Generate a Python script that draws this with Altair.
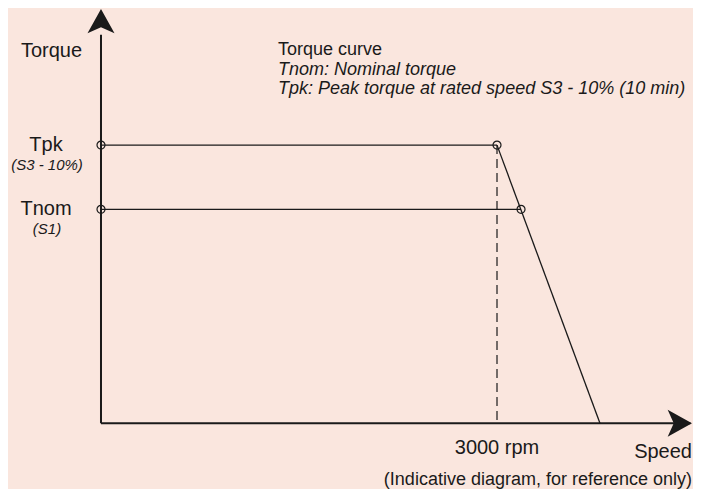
import altair as alt
import pandas as pd

# ---- values ----
rated_speed = 3000            # rpm, end of the peak-torque plateau
nominal_corner_speed = 3182   # rpm, where the nominal-torque line meets the slope
zero_torque_speed = 3780      # rpm, where the slope reaches zero torque
peak_torque = 130             # Tpk (relative units)
nominal_torque = 100          # Tnom (relative units)
speed_axis_end = 4477         # arrow tip of the speed axis
torque_axis_end = 193.6       # arrow tip of the torque axis

seg_x = [0, 0, rated_speed]
seg_y = [peak_torque, nominal_torque, peak_torque]
seg_x2 = [rated_speed, nominal_corner_speed, zero_torque_speed]
seg_y2 = [peak_torque, nominal_torque, 0]

dash_x = [rated_speed]
dash_y = [peak_torque]
dash_y2 = [0]

marker_x = [0, rated_speed, 0, nominal_corner_speed]
marker_y = [peak_torque, peak_torque, nominal_torque, nominal_torque]

torque_labels = ["Tpk", "Tnom"]
torque_notes = ["(S3 - 10%)", "(S1)"]
torque_label_values = [peak_torque, nominal_torque]

legend_title = "Torque curve"
legend_items = ["Tnom: Nominal torque",
                "Tpk: Peak torque at rated speed S3 - 10% (10 min)"]
y_title = "Torque"
x_title = "Speed"
x_tick_label = f"{rated_speed} rpm"
footnote = "(Indicative diagram, for reference only)"

# ---- layout / style ----
W, H = 685, 481
BG = "#FAE6DE"
INK = "#1a1a1a"
FONT = "Liberation Sans"

xs = alt.Scale(domain=[-704.5, 4484.8], nice=False, zero=False)
ys = alt.Scale(domain=[-30.70, 194.07], nice=False, zero=False)

def X(f):
    return alt.X(f, type="quantitative", scale=xs, axis=None)

def Y(f):
    return alt.Y(f, type="quantitative", scale=ys, axis=None)

axes_df = pd.DataFrame({"x": [0, 0], "y": [0, 0],
                        "x2": [speed_axis_end - 12, 0],
                        "y2": [0, torque_axis_end - 12]})
axes = alt.Chart(axes_df).mark_rule(strokeWidth=2, color=INK).encode(
    x=X("x"), y=Y("y"), x2="x2:Q", y2="y2:Q")

seg_df = pd.DataFrame({"x": seg_x, "y": seg_y, "x2": seg_x2, "y2": seg_y2})
segs = alt.Chart(seg_df).mark_rule(strokeWidth=1.3, color=INK).encode(
    x=X("x"), y=Y("y"), x2="x2:Q", y2="y2:Q")

dash_df = pd.DataFrame({"x": dash_x, "y": dash_y, "y2": dash_y2})
dashed = alt.Chart(dash_df).mark_rule(strokeWidth=1.2, color=INK,
                                      strokeDash=[9, 5]).encode(
    x=X("x"), y=Y("y"), y2="y2:Q")

mk_df = pd.DataFrame({"x": marker_x, "y": marker_y})
markers = alt.Chart(mk_df).mark_point(shape="circle", size=64, filled=False,
                                      strokeWidth=1.2, color=INK, opacity=1).encode(
    x=X("x"), y=Y("y"))

arrow_right = "M 0 0 L -1.8 -1 L -1.35 0 L -1.8 1 Z"
arrow_up = "M 0 0 L -1 1.8 L 0 1.35 L 1 1.8 Z"
ar_df = pd.DataFrame({"x": [speed_axis_end], "y": [0]})
au_df = pd.DataFrame({"x": [0], "y": [torque_axis_end]})
arr_r = alt.Chart(ar_df).mark_point(shape=arrow_right, size=729, filled=True,
                                    color=INK, opacity=1, strokeWidth=0).encode(
    x=X("x"), y=Y("y"))
arr_u = alt.Chart(au_df).mark_point(shape=arrow_up, size=729, filled=True,
                                    color=INK, opacity=1, strokeWidth=0).encode(
    x=X("x"), y=Y("y"))

tl_df = pd.DataFrame({"label": torque_labels, "note": torque_notes,
                      "t": torque_label_values})
tlabels = alt.Chart(tl_df).mark_text(font=FONT, fontSize=20, color=INK,
                                     align="center", baseline="alphabetic",
                                     dy=6).encode(
    x=alt.value(38), y=Y("t"), text="label:N")
tnotes = alt.Chart(tl_df).mark_text(font=FONT, fontSize=15, fontStyle="italic",
                                    color=INK, align="center",
                                    baseline="alphabetic", dy=25).encode(
    x=alt.value(39), y=Y("t"), text="note:N")

tick_df = pd.DataFrame({"x": [rated_speed], "label": [x_tick_label]})
tick = alt.Chart(tick_df).mark_text(font=FONT, fontSize=20, color=INK,
                                    align="center", baseline="alphabetic").encode(
    x=X("x"), y=alt.value(445.5), text="label:N")

def note(text, x, y, size=20, align="left", style="normal"):
    return alt.Chart(pd.DataFrame({"label": [text]})).mark_text(
        font=FONT, fontSize=size, color=INK, align=align,
        baseline="alphabetic", fontStyle=style).encode(
        x=alt.value(x), y=alt.value(y), text="label:N")

t_ytitle = note(y_title, 43.5, 48.7, align="center")
t_xtitle = note(x_title, 684, 450, align="right")
t_foot = note(footnote, 684, 477, size=18, align="right")
t_leg = note(legend_title, 270, 47, size=18)
t_item1 = note(legend_items[0], 270, 66.5, size=18, style="italic")
t_item2 = note(legend_items[1], 270, 86, size=18, style="italic")

chart = alt.layer(
    axes, segs, dashed, markers, arr_r, arr_u,
    tlabels, tnotes, tick, t_ytitle, t_xtitle, t_foot, t_leg, t_item1, t_item2,
).properties(
    width=W, height=H, background=BG, padding=0,
    autosize=alt.AutoSizeParams(type="none"),
).configure_view(strokeWidth=0)

chart.save("out.html", embed_options={"renderer": "svg", "actions": False})
